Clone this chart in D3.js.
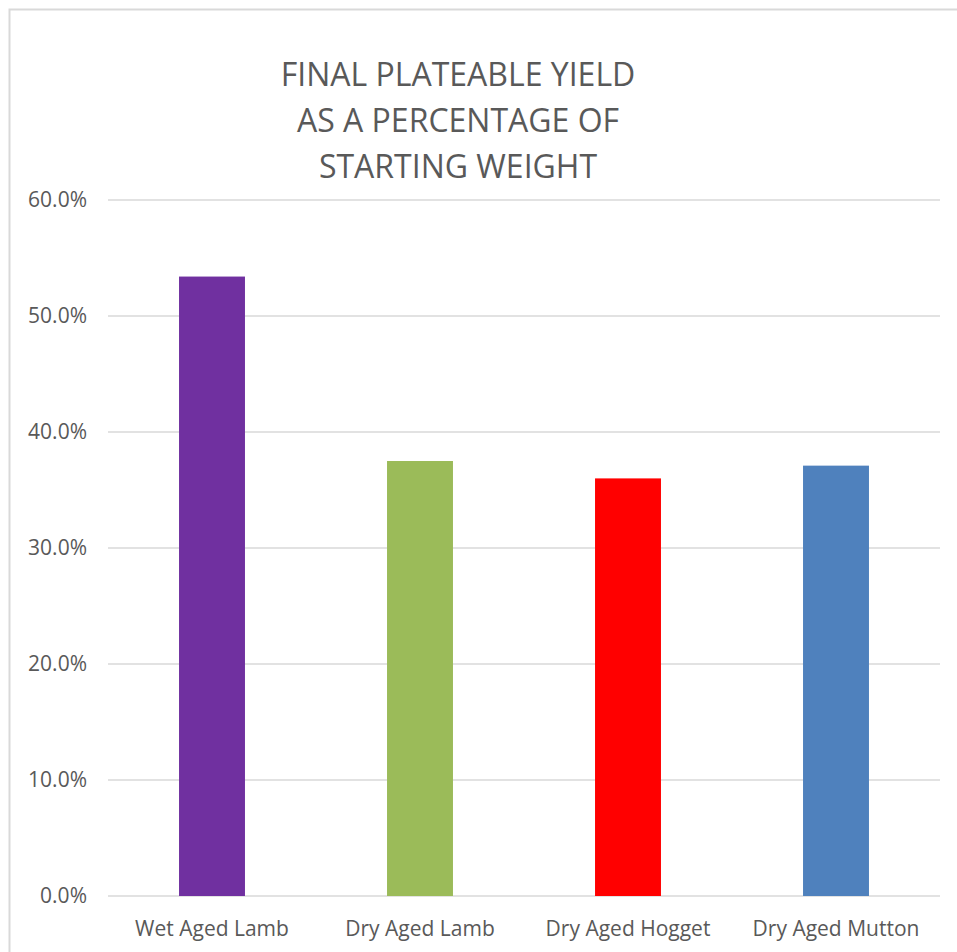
<!DOCTYPE html>
<html>
<head>
<meta charset="utf-8">
<script src="https://cdn.jsdelivr.net/npm/d3@7"></script>
<style>
  body { margin: 0; background: #fff; }
  svg text { font-family: 'Open Sans', sans-serif; fill: #595959; }
</style>
</head>
<body>
<div id="chart"></div>
<script>
const categories = ['Wet Aged Lamb', 'Dry Aged Lamb', 'Dry Aged Hogget', 'Dry Aged Mutton']
const values = [0.534, 0.375, 0.360, 0.371]
const colors = ['#7030A0', '#9BBB59', '#FF0000', '#4F81BD']
const yTicks = [0, 0.1, 0.2, 0.3, 0.4, 0.5, 0.6]
const titleLines = ['FINAL PLATEABLE YIELD', 'AS A PERCENTAGE OF', 'STARTING WEIGHT']

const width = 957
const height = 952
const margin = { top: 200, right: 17, bottom: 56, left: 108 }

const svg = d3.select('#chart')
  .append('svg')
  .attr('width', width)
  .attr('height', height)

// chart frame (only left/top visible in the crop)
svg.append('rect')
  .attr('x', 9.5).attr('y', 9.5)
  .attr('width', width + 20).attr('height', height + 20)
  .attr('fill', 'none')
  .attr('stroke', '#d9d9d9')
  .attr('stroke-width', 2)

const x = d3.scaleBand()
  .domain(categories)
  .range([margin.left, width - margin.right])
  .paddingInner(0.683)
  .paddingOuter(0.3415)

const y = d3.scaleLinear()
  .domain([0, 0.6])
  .range([height - margin.bottom, margin.top])

// gridlines
svg.append('g')
  .selectAll('line')
  .data(yTicks)
  .join('line')
  .attr('x1', margin.left)
  .attr('x2', width - margin.right)
  .attr('y1', d => y(d))
  .attr('y2', d => y(d))
  .attr('stroke', '#d9d9d9')
  .attr('stroke-width', 1.5)

// y axis labels
const yAxis = d3.axisLeft(y)
  .tickValues(yTicks)
  .tickFormat(d3.format('.1%'))
  .tickSize(0)
  .tickPadding(21)

svg.append('g')
  .attr('transform', `translate(${margin.left},0)`)
  .call(yAxis)
  .call(g => g.select('.domain').remove())
  .selectAll('text')
  .style('font-size', '21px')
  .attr('fill', '#595959')

// bars
svg.append('g')
  .selectAll('rect')
  .data(categories)
  .join('rect')
  .attr('x', d => x(d))
  .attr('width', x.bandwidth())
  .attr('y', (d, i) => y(values[i]))
  .attr('height', (d, i) => y(0) - y(values[i]))
  .attr('fill', (d, i) => colors[i])

// x axis
const xAxis = d3.axisBottom(x).tickSize(0)
svg.append('g')
  .attr('transform', `translate(0,${y(0)})`)
  .call(xAxis)
  .call(g => g.select('.domain').remove())
  .selectAll('text')
  .attr('y', 40)
  .attr('dy', null)
  .style('font-size', '21px')
  .attr('fill', '#595959')

// title
svg.append('g')
  .selectAll('text')
  .data(titleLines)
  .join('text')
  .attr('x', 458)
  .attr('y', (d, i) => 86 + i * 46)
  .attr('text-anchor', 'middle')
  .style('font-size', '32px')
  .text(d => d)
</script>
</body>
</html>
